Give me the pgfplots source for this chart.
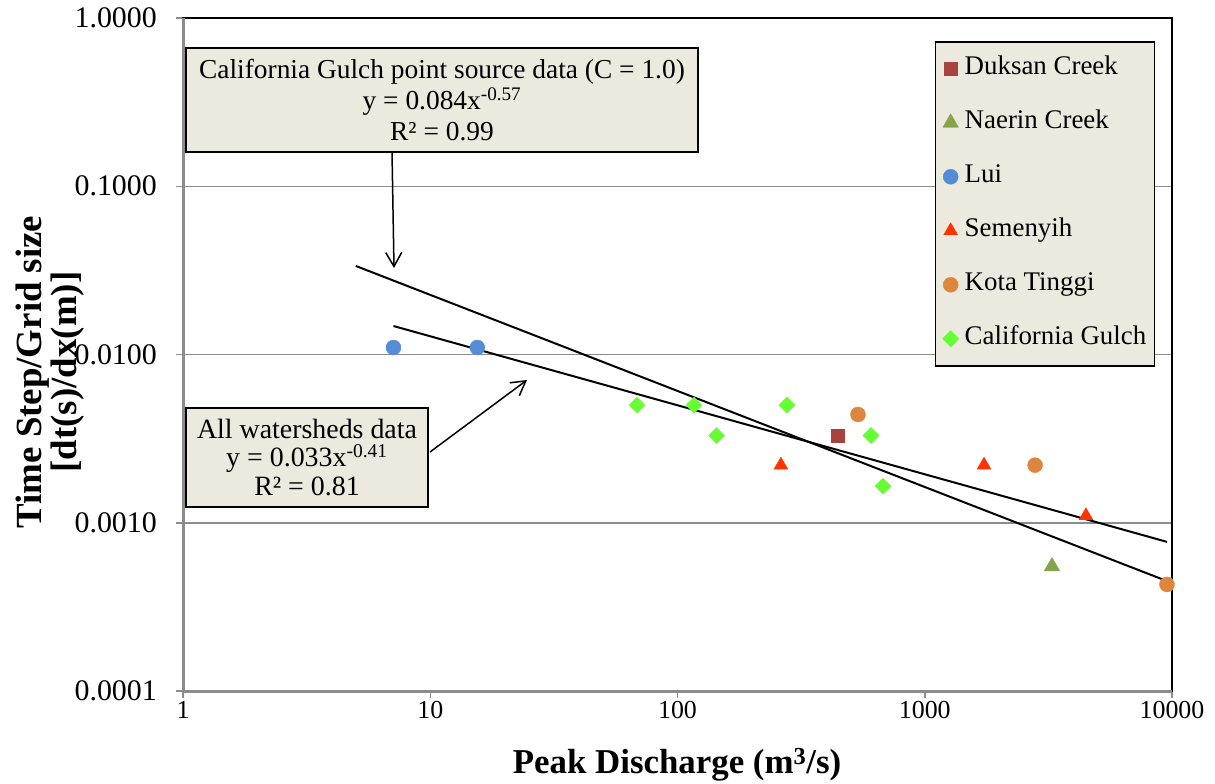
\documentclass[border=0pt]{standalone}
\usepackage{pgfplots}
\pgfplotsset{compat=1.18}
\usepackage{fontspec}
\setmainfont{Liberation Serif}
\usetikzlibrary{arrows.meta}
\definecolor{beige}{RGB}{236,233,223}
\definecolor{duksan}{RGB}{168,66,62}
\definecolor{naerin}{RGB}{134,164,74}
\definecolor{lui}{RGB}{84,141,212}
\definecolor{semenyih}{RGB}{255,51,0}
\definecolor{kota}{RGB}{221,135,62}
\definecolor{gulch}{RGB}{102,255,51}
\definecolor{gridgray}{RGB}{140,140,140}
\pgfplotsset{mk/.style={only marks, line width=0.4bp,
  legend image code/.code={\draw[mark repeat=2,mark phase=2,##1] plot coordinates {(0bp,0bp) (7bp,0bp) (14bp,0bp)};}}}
\tikzset{ylab/.style={anchor=east, font=\fontsize{30}{34}\selectfont, inner sep=0pt, xshift=-26bp}}
\begin{document}
\begin{tikzpicture}
\useasboundingbox (0bp,0bp) rectangle (1215bp,784bp);
\begin{axis}[
  at={(183bp,93bp)}, anchor=south west,
  scale only axis, width=989bp, height=673bp,
  xmode=log, ymode=log,
  xmin=1, xmax=10000, ymin=0.0001, ymax=1,
  xtick={1,10,100,1000,10000}, xticklabels={1,10,100,1000,10000},
  ytick={0.0001,0.001,0.01,0.1,1}, yticklabels={,,,,},
  minor tick style={draw=none},
  ymajorgrids, xmajorgrids=false,
  major grid style={draw=gridgray, line width=1.5bp},
  axis line style={draw=black, line width=1.5bp},
  tick align=outside, xtick pos=left, ytick pos=left,
  major tick style={draw=gridgray, line width=1.5bp}, major tick length=7bp,
  xticklabel style={font=\fontsize{26}{30}\selectfont},
  clip=false,
  legend cell align=left,
  legend style={at={(0.9828,0.9658)}, anchor=north east, fill=beige, draw=black, line width=1.5bp,
    font=\fontsize{27}{31}\selectfont, row sep=28bp, inner xsep=7bp, inner ysep=14bp,
    nodes={inner sep=1bp, text height=18bp, text depth=6bp},
    /tikz/every odd column/.append style={column sep=5bp}},
]
\addplot[mk, mark=square*, mark size=6.5bp, color=duksan] coordinates {(446,0.0033)};
\addlegendentry{Duksan Creek}
\addplot[mk, mark=triangle*, mark size=9bp, color=naerin] coordinates {(3270,0.00055)};
\addlegendentry{Naerin Creek}
\addplot[mk, mark=*, mark size=7.5bp, color=lui] coordinates {(7.1,0.011) (15.5,0.011)};
\addlegendentry{Lui}
\addplot[mk, mark=triangle*, mark size=8bp, color=semenyih] coordinates {(262,0.0022) (1737,0.0022) (4487,0.0011)};
\addlegendentry{Semenyih}
\addplot[mk, mark=*, mark size=7.5bp, color=kota] coordinates {(537,0.0044) (2794,0.0022) (9545,0.00043)};
\addlegendentry{Kota Tinggi}
\addplot[mk, mark=square*, mark size=5.7bp, mark options={rotate=45}, color=gulch] coordinates {(68.6,0.005) (116.6,0.005) (144,0.0033) (277,0.005) (606,0.0033) (678,0.00165)};
\addlegendentry{California Gulch}
\addplot[black, line width=2bp, forget plot] coordinates {(5,0.0336) (9545,0.00045)};
\addplot[black, line width=2bp, forget plot] coordinates {(7.1,0.01477) (9545,0.00077)};
\draw[gridgray, line width=3bp] (rel axis cs:0,1) -- (rel axis cs:0,0) -- (rel axis cs:1,0);
\node[ylab] at (rel axis cs:0,0) {0.0001};
\node[ylab] at (rel axis cs:0,0.25) {0.0010};
\node[ylab] at (rel axis cs:0,0.5) {0.0100};
\node[ylab] at (rel axis cs:0,0.75) {0.1000};
\node[ylab] at (rel axis cs:0,1) {1.0000};
\end{axis}
\node[draw=black, line width=2bp, fill=beige, minimum width=512bp, minimum height=104bp, align=center,
  font=\fontsize{27.5}{31}\selectfont, inner sep=0pt] at (442bp,684bp)
  {California Gulch point source data (C = 1.0)\\ y = 0.084x\textsuperscript{-0.57}\\ R² = 0.99};
\node[draw=black, line width=2bp, fill=beige, minimum width=242bp, minimum height=99bp, align=center,
  font=\fontsize{28}{29}\selectfont, inner sep=0pt] at (307bp,326.5bp)
  {All watersheds data\\ y = 0.033x\textsuperscript{-0.41}\\ R² = 0.81};
\draw[line width=1.5bp, -{Straight Barb[length=14bp, width=16bp]}] (392bp,632bp) -- (394bp,516bp);
\draw[line width=1.5bp, -{Straight Barb[length=14bp, width=16bp]}] (430bp,332bp) -- (527bp,404bp);
\node[font=\fontsize{35}{38}\selectfont\bfseries] at (677bp,19bp) {Peak Discharge (m\textsuperscript{3}/s)};
\node[rotate=90, align=center, font=\fontsize{37}{31}\selectfont\bfseries] at (50bp,412bp)
  {Time Step/Grid size\\{}[dt(s)/dx(m)]};
\end{tikzpicture}
\end{document}
